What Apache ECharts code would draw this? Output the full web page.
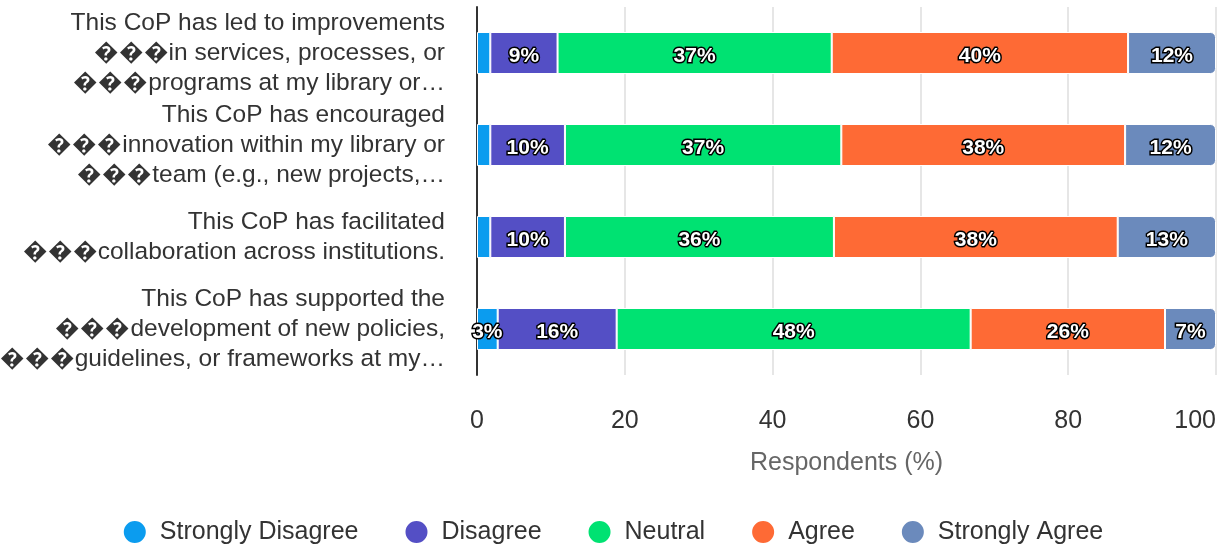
<!DOCTYPE html>
<html>
<head>
<meta charset="utf-8">
<script src="https://cdn.jsdelivr.net/npm/echarts@6/dist/echarts.min.js"></script>
<style>
  html, body { margin: 0; padding: 0; background: #fff; }
  #chart { width: 1225px; height: 547px; }
</style>
</head>
<body>
<div id="chart"></div>
<script>
// categories (top to bottom)
var statements = [
  'This CoP has led to improvements\n\uFFFD\uFFFD\uFFFDin services, processes, or\n\uFFFD\uFFFD\uFFFDprograms at my library or\u2026',
  'This CoP has encouraged\n\uFFFD\uFFFD\uFFFDinnovation within my library or\n\uFFFD\uFFFD\uFFFDteam (e.g., new projects,\u2026',
  'This CoP has facilitated\n\uFFFD\uFFFD\uFFFDcollaboration across institutions.',
  'This CoP has supported the\n\uFFFD\uFFFD\uFFFDdevelopment of new policies,\n\uFFFD\uFFFD\uFFFDguidelines, or frameworks at my\u2026'
]
var seriesNames = ['Strongly Disagree', 'Disagree', 'Neutral', 'Agree', 'Strongly Agree']
var colors = ['#0b9cef', '#544fc5', '#00e272', '#fe6a35', '#6b8abc']

// percentages per response, in the order of statements
var stronglyDisagree = [1.8, 1.8, 1.8, 2.8]
var disagree = [9.1, 10.1, 10.1, 16.1]
var neutral = [37.1, 37.4, 36.4, 47.9]
var agree = [40.1, 38.4, 38.4, 26.3]
var stronglyAgree = [11.9, 12.3, 13.3, 6.9]
var xTicks = { min: 0, max: 100, interval: 20 }

var values = [stronglyDisagree, disagree, neutral, agree, stronglyAgree]
var font = '"Liberation Sans", Arial, Helvetica, sans-serif'

var chart = echarts.init(document.getElementById('chart'))

var series = seriesNames.map(function (name, i) {
  return {
    name: name,
    type: 'bar',
    stack: 'total',
    barWidth: 42,
    data: values[i],
    itemStyle: {
      color: colors[i],
      borderColor: '#ffffff',
      borderWidth: 1,
      borderRadius: i === seriesNames.length - 1 ? [0, 5, 5, 0] : 0
    },
    label: {
      show: true,
      position: 'inside',
      offset: [0, 3],
      color: '#ffffff',
      fontFamily: font,
      fontWeight: 'bold',
      fontSize: 21,
      textBorderColor: '#000000',
      textBorderWidth: 3,
      formatter: function (p) {
        return p.value < 2.5 ? '' : Math.round(p.value) + '%'
      }
    },
    emphasis: { disabled: true }
  }
})

chart.setOption({
  animation: false,
  textStyle: { fontFamily: font },
  legend: {
    top: 514,
    left: 'center',
    icon: 'circle',
    itemWidth: 24,
    itemHeight: 24,
    itemGap: 45,
    textStyle: {
      fontFamily: font,
      fontSize: 25,
      color: '#333333',
      padding: [0, 0, 0, 8]
    },
    data: seriesNames
  },
  grid: {
    left: 477,
    right: 9,
    top: 7,
    bottom: 172,
    containLabel: false,
    outerBoundsMode: 'none'
  },
  xAxis: {
    type: 'value',
    min: xTicks.min,
    max: xTicks.max,
    interval: xTicks.interval,
    name: 'Respondents (%)',
    nameLocation: 'middle',
    nameGap: 76,
    nameTextStyle: { fontFamily: font, fontSize: 25, color: '#666666' },
    axisLine: { show: false },
    axisTick: { show: false },
    axisLabel: {
      margin: 34,
      fontFamily: font,
      fontSize: 25,
      color: '#333333',
      alignMaxLabel: 'right'
    },
    splitLine: { lineStyle: { color: '#e6e6e6', width: 2 } }
  },
  yAxis: {
    type: 'category',
    inverse: true,
    data: statements,
    axisLine: { show: true, lineStyle: { color: '#333333', width: 2 } },
    axisTick: { show: false },
    axisLabel: {
      interval: 0,
      margin: 32,
      fontFamily: font,
      fontSize: 24.5,
      lineHeight: 30,
      padding: [4, 0, 0, 0],
      color: '#333333',
      align: 'right'
    }
  },
  series: series
})
</script>
</body>
</html>
